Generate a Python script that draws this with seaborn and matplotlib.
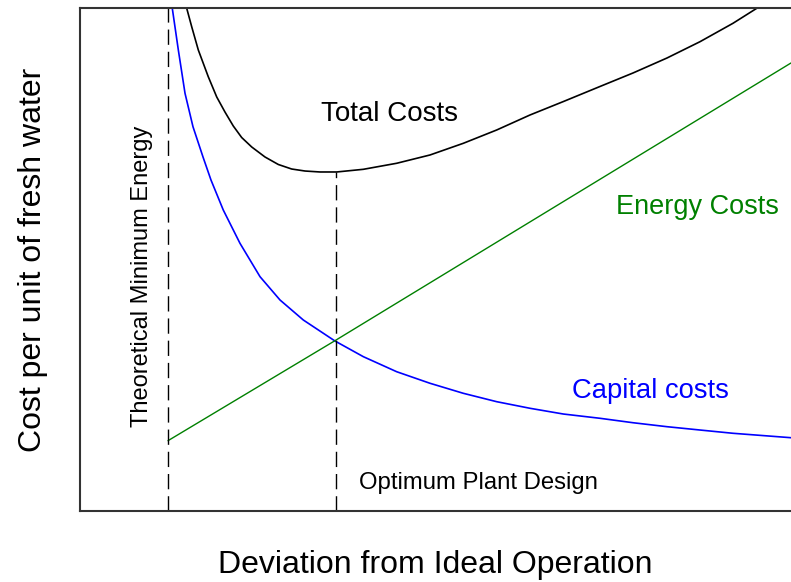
import numpy as np
import pandas as pd
import seaborn as sns
import matplotlib.pyplot as plt

# values (x: deviation 0-100, y: cost 0-100)
capital_x = [12.81, 12.98, 13.83, 14.77, 15.89, 17.3, 18.42, 20.15, 22.5, 25.32, 28.13, 31.41,
             35.86, 39.85, 44.54, 49.23, 53.91, 58.61, 63.29, 67.98, 73.14, 77.78, 82.56,
             87.2, 91.84, 100.0]
capital_y = [101.59, 99.94, 91.65, 83.04, 76.4, 70.38, 65.81, 59.84, 53.22, 46.58, 41.95, 37.97,
             33.8, 30.68, 27.69, 25.39, 23.4, 21.73, 20.42, 19.28, 18.43, 17.55, 16.76,
             16.1, 15.45, 14.57]

total_x = [14.49, 15.01, 15.71, 16.64, 18.04, 19.23, 20.39, 21.56, 22.74, 24.15, 26.02, 27.89,
           29.77, 31.65, 33.76, 36.1, 39.85, 44.54, 49.23, 53.91, 58.61, 63.29, 67.98, 73.14,
           77.78, 82.56, 87.2, 91.84, 95.18, 97.03]
total_y = [101.59, 99.94, 96.28, 91.65, 86.34, 82.31, 79.32, 76.54, 74.25, 72.37, 70.38, 68.89,
           67.99, 67.59, 67.4, 67.4, 67.93, 69.13, 70.78, 73.1, 75.75, 78.73, 81.4, 84.4,
           87.08, 90.06, 93.3, 96.96, 99.94, 101.59]

energy_x = [12.38, 35.86, 100.0]
energy_y = [13.98, 33.86, 89.07]

theoretical_min_x = 12.38
optimum_x = 36.05
optimum_cost = 67.4

sns.set_style("white")
plt.rcParams["font.family"] = ["Liberation Sans", "DejaVu Sans"]
plt.rcParams["text.color"] = "black"
plt.rcParams["axes.labelcolor"] = "black"

fig = plt.figure(figsize=(7.91, 5.82), dpi=100)
ax = fig.add_axes([80 / 791, 71 / 582, 711 / 791, 503 / 582])

sns.lineplot(x=capital_x, y=capital_y, color="#0000ff", lw=1.2, ax=ax, sort=False)
sns.lineplot(x=total_x, y=total_y, color="black", lw=1.2, ax=ax, sort=False)
sns.lineplot(x=energy_x, y=energy_y, color="#008000", lw=1.0, ax=ax, sort=False)

# dashed markers for the theoretical minimum and the optimum design
dash = (0, (11, 5))
ax.plot([theoretical_min_x, theoretical_min_x], [0, 100], color="black", lw=1.0, linestyle=dash)
ax.plot([optimum_x, optimum_x], [0, optimum_cost], color="black", lw=1.0, linestyle=dash)

ax.text(43.6, 78.9, "Total Costs", fontsize=20, ha="center", va="center")
ax.text(86.9, 60.5, "Energy Costs", fontsize=19.5, ha="center", va="center", color="#008000")
ax.text(80.3, 23.85, "Capital costs", fontsize=19.7, ha="center", va="center", color="#0000ff")
ax.text(56.0, 5.6, "Optimum Plant Design", fontsize=17.2, ha="center", va="center")
ax.text(8.68, 46.6, "Theoretical Minimum Energy", fontsize=17, ha="center", va="center",
        rotation=90)

ax.set_xlim(0, 100)
ax.set_ylim(0, 100)
ax.set_xticks([])
ax.set_yticks([])
ax.set_xlabel("Deviation from Ideal Operation", fontsize=23, labelpad=28)
ax.set_ylabel("Cost per unit of fresh water", fontsize=23, labelpad=23)

for side in ["left", "top", "bottom"]:
    ax.spines[side].set_color("#333333")
    ax.spines[side].set_linewidth(1.5)
ax.spines["right"].set_visible(False)

fig.savefig("out.png", dpi=100)
